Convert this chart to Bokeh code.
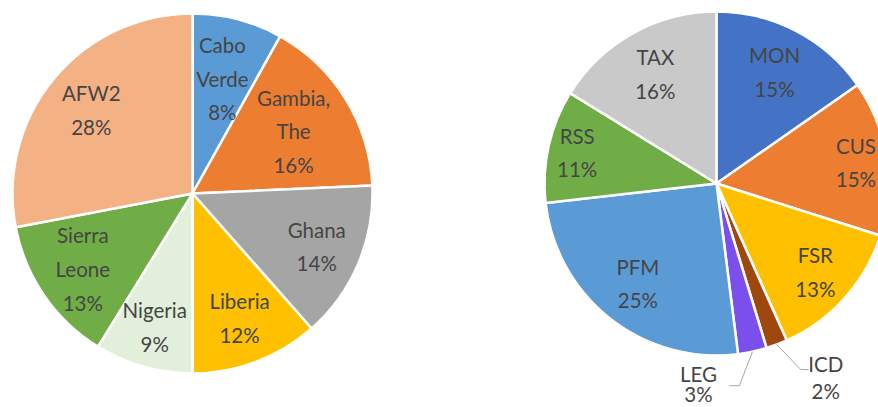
import math
from bokeh.plotting import figure
from bokeh.models import Range1d, ColumnDataSource
from bokeh.core.properties import value
from bokeh.embed import file_html
from bokeh.resources import INLINE

# ---------------- data ----------------
left_names = ["Cabo\nVerde", "Gambia,\nThe", "Ghana", "Liberia", "Nigeria", "Sierra\nLeone", "AFW2"]
left_values = [8.1, 16.2, 14.2, 11.5, 8.8, 13.2, 28.0]
left_colors = ["#5B9BD5", "#ED7D31", "#A5A5A5", "#FFC000", "#E2EFDA", "#70AD47", "#F4B183"]

right_names = ["MON", "CUS", "FSR", "ICD", "LEG", "PFM", "RSS", "TAX"]
right_values = [15.3, 14.6, 13.4, 2.0, 2.7, 25.2, 10.6, 16.2]
right_colors = ["#4472C4", "#ED7D31", "#FFC000", "#9E480E", "#7B4FEB", "#5B9BD5", "#70AD47", "#C9C9C9"]

# ---------------- layout (screen-pixel coordinates of the picture) ----------------
W, H = 878, 407
left_center = (192, 193)
left_R = 180
right_center = (716, 183)
right_R = 172
left_label_r = [0.66, 0.66, 0.75, 0.74, 0.77, 0.74, 0.73]
right_label_r = [0.73, 0.82, 0.77, None, None, 0.74, 0.83, 0.73]
# outside labels: elbow offset from slice edge, tail offset, label offset from tail end
outside = {
    "ICD": dict(elbow=(24, 25), tail=(8, 0), label=(17, 8), lh=1.12, align="center"),
    "LEG": dict(elbow=(-13, 34), tail=(-10, 0), label=(-31, -2), lh=0.82, align="center"),
}
TEXT_COLOR = "#454545"
FONT = "Lato"
FONT_SIZE = "20.5px"
LINE_H = 1.4

p = figure(width=W, height=H, output_backend="svg", toolbar_location=None,
           x_range=Range1d(0, W), y_range=Range1d(0, H), min_border=0)
p.axis.visible = False
p.grid.visible = False
p.outline_line_color = None
p.background_fill_color = "white"


def Y(ys):
    return H - ys


def draw_pie(center, R, names, values, colors, label_r):
    total = sum(values)
    cx, cy = center
    starts, ends, mids = [], [], []
    cum = 0.0
    for v in values:
        f0 = cum / total
        cum += v
        f1 = cum / total
        starts.append(math.pi / 2 - 2 * math.pi * f1)
        ends.append(math.pi / 2 - 2 * math.pi * f0)
        mids.append((f0 + f1) / 2)
    src = ColumnDataSource(dict(start=starts, end=ends, color=colors))
    p.wedge(x=cx, y=Y(cy), radius=R, start_angle="start", end_angle="end",
            fill_color="color", line_color="white", line_width=2.5, source=src)

    for name, v, m, lr in zip(names, values, mids, label_r):
        txt = f"{name}\n{round(v / total * 100)}%"
        ang = 2 * math.pi * m
        if lr is not None:
            lx = cx + lr * R * math.sin(ang)
            ly = cy - lr * R * math.cos(ang)
            p.text(x=[lx], y=[Y(ly)], text=[txt], text_align="center", text_baseline="middle",
                   text_font=value(FONT), text_font_size=FONT_SIZE, text_color=TEXT_COLOR,
                   text_line_height=LINE_H)
        else:
            o = outside[name]
            ex = cx + R * math.sin(ang)
            ey = cy - R * math.cos(ang)
            bx, by = ex + o["elbow"][0], ey + o["elbow"][1]
            tx, ty = bx + o["tail"][0], by + o["tail"][1]
            p.line(x=[ex, bx, tx], y=[Y(ey), Y(by), Y(ty)], line_color="#A6A6A6", line_width=1)
            lx, ly = tx + o["label"][0], ty + o["label"][1]
            p.text(x=[lx], y=[Y(ly)], text=[txt], text_align=o["align"], text_baseline="middle",
                   text_font=value(FONT), text_font_size=FONT_SIZE, text_color=TEXT_COLOR,
                   text_line_height=o["lh"])


draw_pie(left_center, left_R, left_names, left_values, left_colors, left_label_r)
draw_pie(right_center, right_R, right_names, right_values, right_colors, right_label_r)

open("out.html", "w").write(file_html(p, INLINE))
